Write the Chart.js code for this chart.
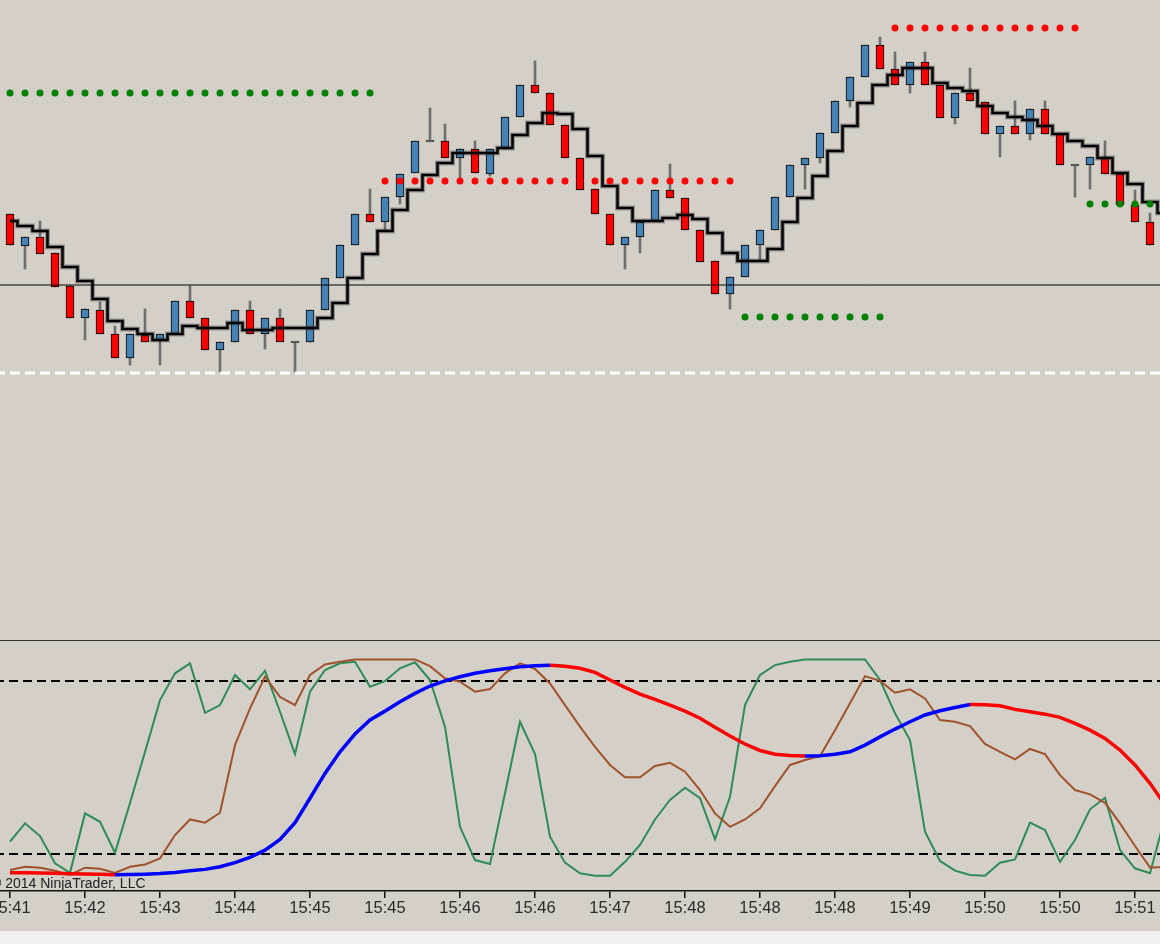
<!DOCTYPE html>
<html>
<head>
<meta charset="utf-8">
<script src="https://cdn.jsdelivr.net/npm/chart.js@4.4.1/dist/chart.umd.min.js"></script>
<style>
html, body { margin: 0; padding: 0; background: #d4d0c8; overflow: hidden; }
#wrap { position: relative; width: 1160px; height: 944px; background: #d4d0c8; overflow: hidden; }
#price { position: absolute; left: 0; top: 0; }
#osc { position: absolute; left: 0; top: 640px; }
#sep { position: absolute; left: 0; top: 640px; width: 1160px; height: 1px; background: #333; }
#copy { position: absolute; left: -9px; top: 876px; font: 14px 'Liberation Sans', Arial, sans-serif; line-height: 14px; color: #222; white-space: nowrap; }
#strip { position: absolute; left: 0; top: 931px; width: 1160px; height: 13px; background: #f0f0f0; }
</style>
</head>
<body>
<div id="wrap">
  <canvas id="price" width="1160" height="640"></canvas>
  <canvas id="osc" width="1160" height="291"></canvas>
  <div id="sep"></div>
  <div id="copy">© 2014 NinjaTrader, LLC</div>
  <div id="strip"></div>
</div>
<script>
// price bars (arbitrary price units, one bar per 12 s)
var barOpen = [186,154,163,147,114,82,90,66,42,65, 59,66,99,82,50,58,90,66,82,58,
  58,90,122,155,186,178,203,227,259,259, 242,251,226,251,283,315,307,275,242,211,
  186,155,163,179,210,202,170,139,106,123, 155,170,203,235,242,267,299,323,355,331,
  315,338,315,282,307,298,266,274,266,291, 266,235,235,243,226,195,178];
var barHigh = [186,163,179,147,114,91,98,74,66,91, 66,99,114,82,58,90,99,82,91,58,
  90,122,155,186,211,203,226,259,292,276, 251,259,251,283,315,339,307,275,242,211,
  186,163,178,210,236,202,170,139,123,155, 170,203,235,242,267,299,323,355,363,348,
  338,348,315,307,332,298,274,299,291,299, 266,235,243,259,226,210,187];
var barLow = [155,131,146,113,82,60,66,42,35,58, 35,66,82,50,28,58,66,51,58,28,
  58,90,122,155,178,170,196,227,259,242, 222,227,224,251,283,307,275,242,210,186,
  155,131,147,179,202,170,138,106,91,123, 139,170,203,211,237,267,293,323,331,315,
  307,315,282,276,299,266,243,266,260,266, 235,203,211,226,195,178,155];
var barClose = [155,163,146,113,82,91,66,42,66,58, 66,99,82,50,58,90,66,82,58,58,
  90,122,155,186,178,203,226,259,259,242, 251,227,251,283,315,307,275,242,210,186,
  155,163,178,210,202,170,138,106,123,155, 170,203,235,242,267,299,323,355,331,315,
  338,315,282,307,299,266,274,266,291,266, 235,235,243,226,195,178,155];

// stepped moving average
var stepMA = [179,174,169,153,133,119,101,79,71,66, 60,66,74,72,72,77,70,70,72,72,
  72,82,97,122,146,169,190,210,225,237, 247,247,247,252,265,277,287,286,271,244,
  214,192,179,179,182,185,181,167,147,139, 139,151,178,202,224,249,274,297,315,325,
  332,332,317,312,309,294,287,283,280,274, 266,259,254,242,227,216,198,187];

// dotted resistance / support levels
var resStart = [25, 59], resEnd = [48, 71], resLevel = [219, 372];
var supStart = [0, 49, 72], supEnd = [24, 58, 76], supLevel = [307, 83, 196];
var refLevel = 115;
var lowLevel = 27;

// oscillator panel (0..100)
var fastK = [15.7,24.2,18.3,5.7,1.3,28.8,24.9,10.6,33.6,57.2, 81.2,93.6,98.2,75.3,78.9,92.8,86.2,94.8,75.8,56.2,
  85.1,95.1,98.2,98.9,87.4,90.0,95.9,98.7,90.5,68.9, 22.6,7.2,5.4,38.1,71.2,56.2,18.0,6.0,1.1,0,
  0,6.4,14.2,26.0,35.0,40.7,35.8,16.8,36.5,78.9, 92.8,97.4,98.9,100,100,100,100,100,90.5,75.1,
  62.7,20.3,6.8,2.3,0.3,0,6.0,7.5,24.5,21.1, 6.4,16.5,30.7,36.0,11.8,3.4,1.1,27];
var slowD = [2.6,4.1,3.7,2.3,0.3,3.7,3.2,1.3,4.1,5.2, 8.0,18.8,26.0,24.5,29.1,60.4,77.4,92.0,82.7,78.9,
  92.8,97.7,98.9,100,100,100,100,100,96.9,91.3, 89.7,85.1,86.3,93.6,98.2,95.6,88.9,78.9,68.9,59.6,
  51.2,45.5,45.5,50.7,52.2,48.1,39.6,28.8,22.6,26.0, 31.1,41.4,51.2,53.5,55.3,67.3,79.7,92.3,90.1,84.6,
  86.2,82.0,72.0,71.2,69.2,60.9,57.3,53.8,58.6,56.2, 46.5,39.6,37.6,33.7,24.2,13.7,3.8,4.0];
var smooth = [1.3,1.3,1.2,1.1,0.9,0.8,0.6,0.4,0.5,0.7, 1.0,1.5,2.3,2.9,4.1,6.0,8.5,11.8,16.8,24.5,
  35.8,47.3,57.3,65.5,72.0,76.1,80.4,84.3,87.7,90.1, 92.0,93.6,94.8,95.7,96.6,97.1,97.3,96.9,95.9,94.0,
  90.5,87.1,84.0,81.5,78.9,76.1,72.8,68.6,64.6,60.9, 57.9,56.2,55.6,55.3,55.5,56.2,57.3,60.4,64.2,67.8,
  71.2,74.3,76.3,77.8,79.2,79.1,78.6,76.9,75.8,74.7, 73.2,70.4,67.3,63.5,58.1,51.2,42.7,32.7];
var oscLevels = [90, 10];

var tickBars = [0,5,10,15,20,25,30,35,40,45,50,55,60,65,70,75];
var tickLabels = ['15:41','15:42','15:43','15:44','15:45','15:45','15:46','15:46',
  '15:47','15:48','15:48','15:48','15:49','15:50','15:50','15:51'];

var xMin = -2 / 3, xMax = 76 + 2 / 3;

function series(arr) {
  return arr.map(function(v, i) { return {x: i, y: v}; });
}
function levelPoints(starts, ends, levels) {
  var pts = [];
  starts.forEach(function(s, k) {
    for (var i = s; i <= ends[k]; i++) pts.push({x: i, y: levels[k]});
  });
  return pts;
}
function flat(v) {
  return [{x: -1, y: v}, {x: 78, y: v}];
}

var bodies = barOpen.map(function(o, i) {
  var c = barClose[i];
  return {x: i, y: o === c ? [o - 0.8, o + 0.8] : [o, c]};
});
var bodyFill = barOpen.map(function(o, i) {
  if (o === barClose[i]) return '#4a4a4a';
  return barClose[i] > o ? '#4682b4' : '#ff0000';
});
var bodyEdge = barOpen.map(function(o, i) {
  return o === barClose[i] ? '#4a4a4a' : '#000000';
});
var wicks = barOpen.map(function(o, i) {
  return {x: i, y: [barLow[i], barHigh[i]]};
});

var common = {
  responsive: false,
  animation: false,
  events: [],
  layout: {padding: 0, autoPadding: false},
  plugins: {legend: {display: false}, tooltip: {enabled: false}}
};

new Chart(document.getElementById('price'), {
  type: 'bar',
  data: {
    datasets: [
      {type: 'line', data: levelPoints(resStart, resEnd, resLevel), showLine: false,
        pointRadius: 3.5, pointBackgroundColor: '#ff0000', pointBorderWidth: 0, order: 0},
      {type: 'line', data: levelPoints(supStart, supEnd, supLevel), showLine: false,
        pointRadius: 3.5, pointBackgroundColor: '#008000', pointBorderWidth: 0, order: 0},
      {type: 'line', data: series(stepMA), stepped: 'middle', borderColor: '#000000',
        borderWidth: 2.5, pointRadius: 0, order: 1},
      // soft grey halo round the step line
      {type: 'line', data: series(stepMA), stepped: 'middle', borderColor: 'rgba(40,40,40,0.35)',
        borderWidth: 5, pointRadius: 0, order: 2},
      {type: 'line', data: flat(lowLevel), borderColor: '#ffffff', borderWidth: 3,
        borderDash: [10, 5], pointRadius: 0, order: 3},
      {type: 'line', data: flat(refLevel), borderColor: '#000000', borderWidth: 1,
        pointRadius: 0, order: 3},
      {data: bodies, backgroundColor: bodyFill, borderColor: bodyEdge, borderWidth: 1,
        borderSkipped: false, barThickness: 8, grouped: false, order: 4},
      {data: wicks, backgroundColor: '#707070', borderWidth: 0,
        barThickness: 2, grouped: false, order: 5}
    ]
  },
  options: Object.assign({}, common, {
    scales: {
      x: {type: 'linear', min: xMin, max: xMax, offset: false, display: false},
      y: {min: -240, max: 400, display: false}
    }
  })
});

new Chart(document.getElementById('osc'), {
  type: 'line',
  data: {
    datasets: [
      {data: series(smooth), borderWidth: 3.5, pointRadius: 0, order: 0,
        borderColor: '#0000ff',
        segment: {borderColor: function(c) { return c.p1.parsed.y > c.p0.parsed.y ? '#0000ff' : '#ff0000'; }}},
      {data: series(slowD), borderColor: '#a0522d', borderWidth: 2, pointRadius: 0, order: 1},
      {data: series(fastK), borderColor: '#2e8b57', borderWidth: 2, pointRadius: 0, order: 2},
      {data: flat(oscLevels[0]), borderColor: '#000000', borderWidth: 2, borderDash: [9, 5], pointRadius: 0, order: 3},
      {data: flat(oscLevels[1]), borderColor: '#000000', borderWidth: 2, borderDash: [9, 5], pointRadius: 0, order: 3}
    ]
  },
  options: Object.assign({}, common, {
    scales: {
      x: {
        type: 'linear', min: xMin, max: xMax, offset: false,
        afterBuildTicks: function(s) { s.ticks = tickBars.map(function(v) { return {value: v}; }); },
        afterFit: function(s) { s.height = 40; s.paddingLeft = 0; s.paddingRight = 0; },
        border: {display: true, color: '#111111', width: 1.5},
        grid: {drawOnChartArea: false, drawTicks: true, tickLength: 7, color: '#111111', lineWidth: 1.5},
        ticks: {
          autoSkip: false, maxRotation: 0, padding: 1, color: '#2a2a2a',
          font: {family: "'Liberation Sans', Arial, sans-serif", size: 16.5},
          callback: function(v) { var k = tickBars.indexOf(v); return k < 0 ? '' : tickLabels[k]; }
        }
      },
      y: {min: -7.1, max: 109, display: false}
    }
  })
});
</script>
</body>
</html>
